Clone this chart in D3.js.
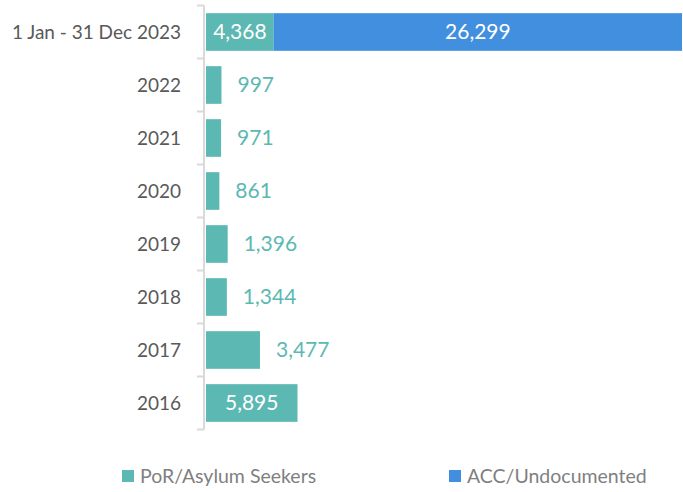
<!DOCTYPE html>
<html><head><meta charset="utf-8">
<script src="https://cdn.jsdelivr.net/npm/d3@7"></script>
<style>body{margin:0;background:#fff}svg{display:block;font-family:Lato,"Open Sans",sans-serif}</style>
</head><body><svg id="c" width="683" height="492"></svg>
<script>
const categories = ["1 Jan - 31 Dec 2023","2022","2021","2020","2019","2018","2017","2016"];
const porValues = [4368, 997, 971, 861, 1396, 1344, 3477, 5895];
const accValues = [26299, null, null, null, null, null, null, null];
const seriesNames = ["PoR/Asylum Seekers","ACC/Undocumented"];
const colors = ["#5cb8b2","#418fde"];

const svg = d3.select("#c");
const x = d3.scaleLinear().domain([0, 30667]).range([206, 682]);
const y = d3.scaleBand().domain(categories).range([5.5, 429.5]).paddingInner(0.29).paddingOuter(0.145);
const fmt = d3.format(",");

// axis line and boundary ticks
svg.append("line").attr("x1",204).attr("x2",204).attr("y1",5.5).attr("y2",429.5).attr("stroke","#d9d9d9").attr("stroke-width",2);
const step = y.step();
d3.range(categories.length+1).forEach(i=>{
  const yy = 5.5 + i*step;
  svg.append("line").attr("x1",197).attr("x2",204).attr("y1",yy).attr("y2",yy).attr("stroke","#d9d9d9").attr("stroke-width",2);
});

// category labels
svg.selectAll("text.cat").data(categories).join("text").attr("class","cat")
  .attr("x",181).attr("y",d=>y(d)+y.bandwidth()/2).attr("dy","0.35em")
  .attr("text-anchor","end").attr("font-size",19).attr("fill","#595959").text(d=>d);

// PoR bars
svg.selectAll("rect.por").data(categories).join("rect").attr("class","por")
  .attr("x",x(0)).attr("y",d=>y(d)).attr("height",y.bandwidth())
  .attr("width",(d,i)=>x(porValues[i])-x(0)).attr("fill",colors[0]);
// ACC bars
svg.selectAll("rect.acc").data(categories.filter((d,i)=>accValues[i]!=null)).join("rect").attr("class","acc")
  .attr("x",d=>x(porValues[categories.indexOf(d)]))
  .attr("y",d=>y(d)).attr("height",y.bandwidth())
  .attr("width",d=>{const i=categories.indexOf(d);return x(porValues[i]+accValues[i])-x(porValues[i]);})
  .attr("fill",colors[1]);

// labels
categories.forEach((c,i)=>{
  const w = x(porValues[i])-x(0);
  const inside = w > 60;
  svg.append("text")
    .attr("x", inside ? x(0)+w/2 : x(porValues[i])+16)
    .attr("y", y(c)+y.bandwidth()/2).attr("dy","0.35em")
    .attr("text-anchor", inside ? "middle" : "start")
    .attr("font-size",21).attr("fill", inside ? "#fff" : colors[0])
    .text(fmt(porValues[i]));
  if (accValues[i]!=null){
    svg.append("text")
      .attr("x",(x(porValues[i])+x(porValues[i]+accValues[i]))/2)
      .attr("y", y(c)+y.bandwidth()/2).attr("dy","0.35em")
      .attr("text-anchor","middle").attr("font-size",21).attr("fill","#fff")
      .text(fmt(accValues[i]));
  }
});

// legend
const legX = [122, 449];
seriesNames.forEach((n,i)=>{
  svg.append("rect").attr("x",legX[i]).attr("y",470).attr("width",12).attr("height",12).attr("fill",colors[i]);
  svg.append("text").attr("x",legX[i]+18).attr("y",476).attr("dy","0.35em")
    .attr("font-size",19.5).attr("fill","#7f7f7f").text(n);
});
</script></body></html>
